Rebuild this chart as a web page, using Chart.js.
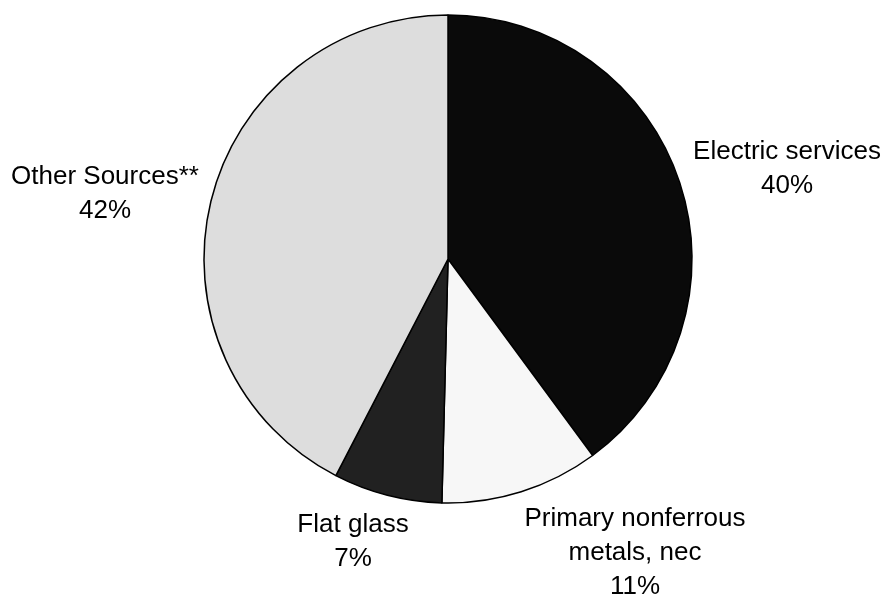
<!DOCTYPE html>
<html>
<head>
<meta charset="utf-8">
<script src="https://cdn.jsdelivr.net/npm/chart.js@4/dist/chart.umd.min.js"></script>
<style>
  body { margin: 0; background: #fff; }
  canvas { display: block; }
</style>
</head>
<body>
<canvas id="myChart" width="883" height="598"></canvas>
<script>
// slices go clockwise from 12 o'clock
let categories = [
    ['Electric services'],
    ['Primary nonferrous', 'metals, nec'],
    ['Flat glass'],
    ['Other Sources**']
];
// shares (labels show them rounded)
let shares = [39.9, 10.5, 7.2, 42.4];
let sliceColors = ['#0a0a0a', '#f7f7f7', '#212121', '#dddddd'];

// where each label block sits, as offset from the pie centre (px)
let labelOffsets = [
    [339, -90],
    [187, 294],
    [-95, 283],
    [-343, -65]
];

let outsideLabels = {
    id: 'outsideLabels',
    afterDatasetsDraw(chart) {
        let ctx = chart.ctx;
        let meta = chart.getDatasetMeta(0);
        let lineH = 34;
        ctx.save();
        ctx.fillStyle = '#000';
        ctx.font = '26px "Liberation Sans", Arial, sans-serif';
        ctx.textAlign = 'center';
        ctx.textBaseline = 'middle';
        meta.data.forEach((arc, i) => {
            let lines = categories[i].concat([Math.round(shares[i]) + '%']);
            let cx = arc.x + labelOffsets[i][0];
            let cy = arc.y + labelOffsets[i][1];
            let top = cy - (lines.length - 1) * lineH / 2;
            lines.forEach((t, j) => ctx.fillText(t, cx, top + j * lineH));
        });
        ctx.restore();
    }
};

let myChart = document.getElementById('myChart').getContext('2d');

let pieChart = new Chart(myChart, {
    type: 'pie',
    data: {
        labels: categories.map(c => c.join(' ')),
        datasets: [{
            data: shares,
            backgroundColor: sliceColors,
            borderColor: '#000',
            borderWidth: 1.5,
            radius: 244
        }]
    },
    options: {
        responsive: false,
        animation: false,
        layout: { padding: { left: 13, right: 0, top: 0, bottom: 80 } },
        plugins: {
            legend: { display: false },
            tooltip: { enabled: false }
        }
    },
    plugins: [outsideLabels]
});
</script>
</body>
</html>
